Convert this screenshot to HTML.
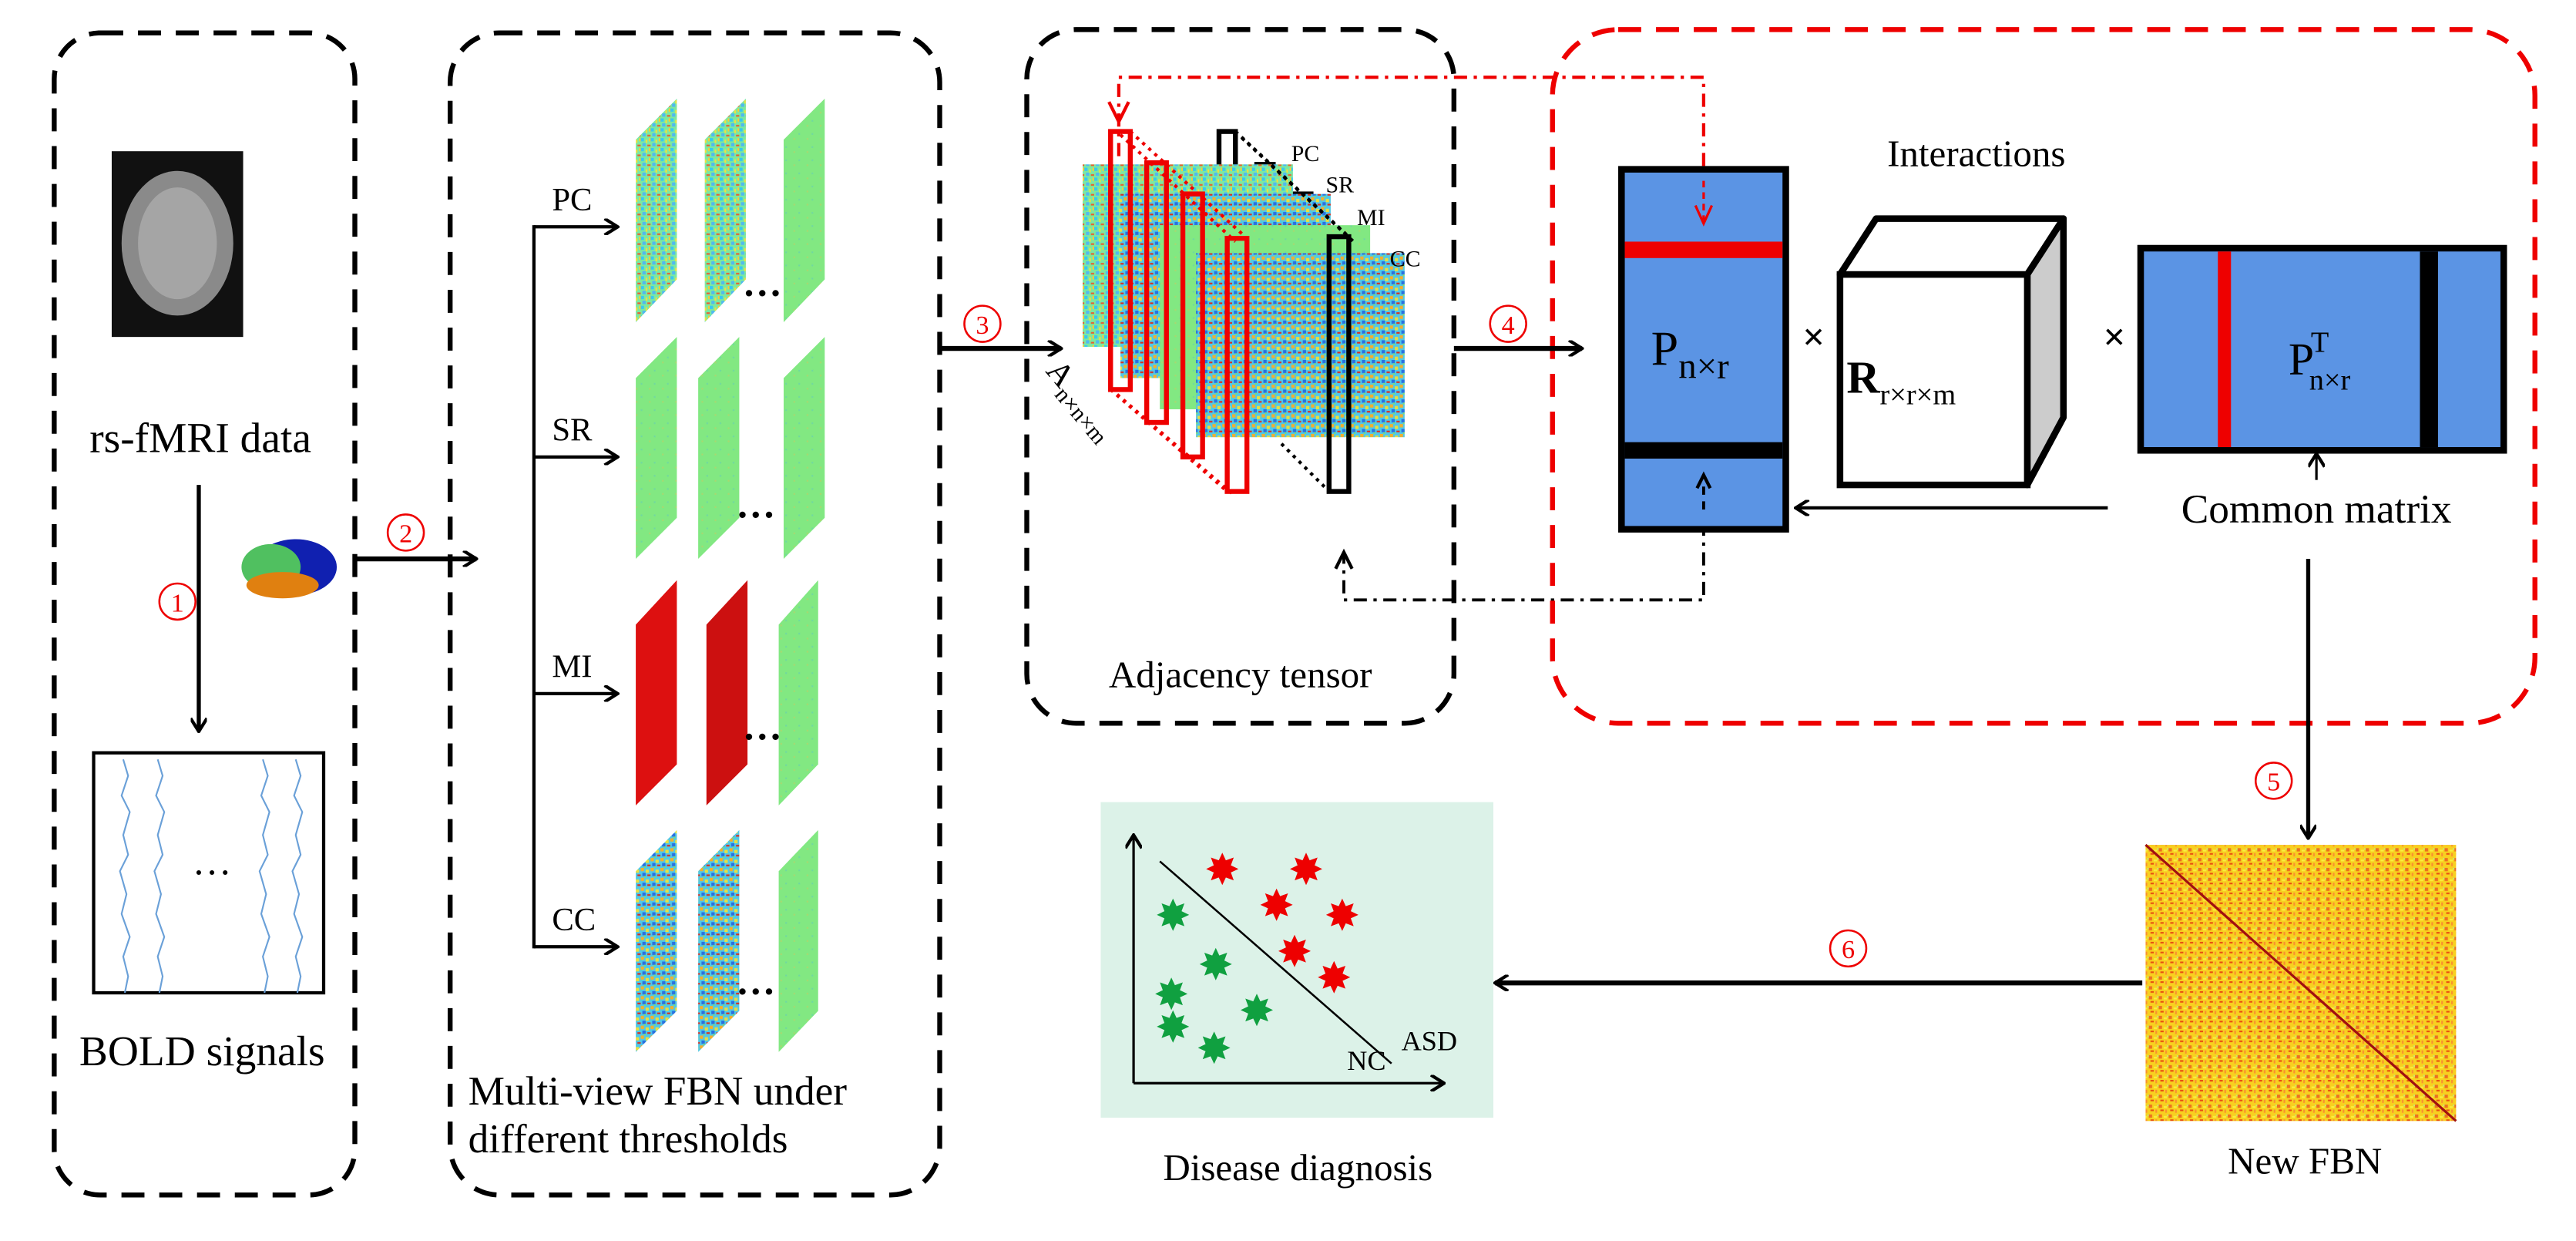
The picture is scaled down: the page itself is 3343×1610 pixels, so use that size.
<!DOCTYPE html>
<html><head><meta charset="utf-8"><style>
html,body{margin:0;padding:0;background:#fff;}
svg{display:block;font-family:"Liberation Serif","DejaVu Serif",serif;}
svg text{font-family:"Liberation Serif","DejaVu Serif",serif;}
</style></head><body>
<svg width="3343" height="1610" viewBox="0 0 1568 755" preserveAspectRatio="none" xmlns="http://www.w3.org/2000/svg" font-family="Liberation Serif, serif">
<defs>
<marker id="ah" markerWidth="10" markerHeight="10" refX="9" refY="5" orient="auto" markerUnits="userSpaceOnUse"><path d="M1,0 L9,5 L1,10" fill="none" stroke="#000" stroke-width="2"/></marker>
<pattern id="pj" width="6" height="6" patternUnits="userSpaceOnUse">
<rect width="6" height="6" fill="#7de8a0"/><rect x="0" y="0" width="2" height="2" fill="#38c8f0"/><rect x="3" y="1" width="1" height="2" fill="#f0e040"/><rect x="4" y="4" width="2" height="1" fill="#e86030"/><rect x="1" y="3" width="2" height="2" fill="#50b8f0"/><rect x="5" y="0" width="1" height="2" fill="#f8d030"/>
</pattern>
<pattern id="pc" width="6" height="6" patternUnits="userSpaceOnUse">
<rect width="6" height="6" fill="#50c8e8"/><rect x="0" y="0" width="2" height="2" fill="#f0b030"/><rect x="3" y="1" width="2" height="2" fill="#e8e040"/><rect x="1" y="3" width="2" height="2" fill="#2a70e0"/><rect x="4" y="4" width="2" height="1" fill="#d83020"/><rect x="2" y="5" width="1" height="1" fill="#80e070"/>
</pattern>
<pattern id="pg" width="8" height="8" patternUnits="userSpaceOnUse">
<rect width="8" height="8" fill="#82e882"/><rect x="3" y="4" width="1" height="1" fill="#a8d870"/><rect x="6" y="1" width="1" height="1" fill="#70d8a0"/>
</pattern>
<pattern id="py" width="6" height="6" patternUnits="userSpaceOnUse">
<rect width="6" height="6" fill="#f8d020"/><rect x="0" y="0" width="2" height="2" fill="#ec7020"/><rect x="3" y="1" width="2" height="1" fill="#f8f040"/><rect x="1" y="3" width="2" height="1" fill="#e85010"/><rect x="4" y="3" width="1" height="2" fill="#f89030"/><rect x="5" y="0" width="1" height="1" fill="#c8e870"/>
</pattern>
</defs>

<!-- Box 1 -->
<rect x="33" y="20" width="183" height="707" rx="28" fill="none" stroke="#000" stroke-width="3" stroke-dasharray="14,9"/>
<rect x="68" y="92" width="80" height="113" fill="#111"/>
<ellipse cx="108" cy="148" rx="34" ry="44" fill="#8a8a8a"/>
<ellipse cx="108" cy="148" rx="24" ry="34" fill="#a5a5a5"/>
<text x="122" y="275" font-size="26" text-anchor="middle">rs-fMRI data</text>
<line x1="121" y1="295" x2="121" y2="445" stroke="#000" stroke-width="2.5" marker-end="url(#ah)"/>
<circle cx="108" cy="366" r="11" fill="none" stroke="#e00" stroke-width="1.2"/>
<text x="108" y="372" font-size="16" fill="#e00" text-anchor="middle">1</text>
<ellipse cx="180" cy="345" rx="25" ry="17" fill="#1020b0"/>
<ellipse cx="165" cy="345" rx="18" ry="14" fill="#50c060"/>
<ellipse cx="172" cy="356" rx="22" ry="8" fill="#e08010"/>
<rect x="57" y="458" width="140" height="146" fill="#fff" stroke="#000" stroke-width="2"/>
<g fill="none" stroke="#6aa0d8" stroke-width="1">
<path d="M75,462 l3,10 -4,12 5,10 -4,14 3,12 -5,10 4,14 -3,12 5,14 -4,12 3,12 -2,10"/>
<path d="M96,462 l3,10 -4,12 5,10 -4,14 3,12 -5,10 4,14 -3,12 5,14 -4,12 3,12 -2,10"/>
<path d="M160,462 l3,10 -4,12 5,10 -4,14 3,12 -5,10 4,14 -3,12 5,14 -4,12 3,12 -2,10"/>
<path d="M180,462 l3,10 -4,12 5,10 -4,14 3,12 -5,10 4,14 -3,12 5,14 -4,12 3,12 -2,10"/>
</g>
<text x="129" y="532" font-size="24" text-anchor="middle">…</text>
<text x="123" y="648" font-size="26" text-anchor="middle">BOLD signals</text>

<!-- arrow 2 -->
<line x1="216" y1="340" x2="290" y2="340" stroke="#000" stroke-width="3" marker-end="url(#ah)"/>
<circle cx="247" cy="324" r="11" fill="none" stroke="#e00" stroke-width="1.2"/>
<text x="247" y="330" font-size="16" fill="#e00" text-anchor="middle">2</text>

<!-- Box 2 -->
<rect x="274" y="20" width="298" height="707" rx="30" fill="none" stroke="#000" stroke-width="3" stroke-dasharray="14,9"/>
<line x1="325" y1="137" x2="325" y2="577" stroke="#000" stroke-width="2"/>
<g stroke="#000" stroke-width="2" marker-end="url(#ah)">
<line x1="325" y1="138" x2="376" y2="138"/><line x1="325" y1="278" x2="376" y2="278"/>
<line x1="325" y1="422" x2="376" y2="422"/><line x1="325" y1="576" x2="376" y2="576"/>
</g>
<g font-size="20">
<text x="336" y="128">PC</text><text x="336" y="268">SR</text><text x="336" y="412">MI</text><text x="336" y="566">CC</text>
</g>
<g>
<polygon points="387,85 412,60 412,170 387,196" fill="url(#pj)"/>
<polygon points="429,85 454,60 454,170 429,196" fill="url(#pj)"/>
<polygon points="477,85 502,60 502,170 477,196" fill="url(#pg)"/>
<polygon points="387,230 412,205 412,315 387,340" fill="url(#pg)"/>
<polygon points="425,230 450,205 450,315 425,340" fill="url(#pg)"/>
<polygon points="477,230 502,205 502,315 477,340" fill="url(#pg)"/>
<polygon points="387,380 412,353 412,465 387,490" fill="#dd1010"/>
<polygon points="430,380 455,353 455,465 430,490" fill="#cc1010"/>
<polygon points="474,380 498,353 498,465 474,490" fill="url(#pg)"/>
<polygon points="387,530 412,505 412,615 387,640" fill="url(#pc)"/>
<polygon points="425,530 450,505 450,615 425,640" fill="url(#pc)"/>
<polygon points="474,530 498,505 498,615 474,640" fill="url(#pg)"/>
</g>
<g font-size="24" font-weight="bold"><text x="452" y="180">…</text><text x="448" y="315">…</text><text x="452" y="450">…</text><text x="448" y="605">…</text></g>
<text x="285" y="672" font-size="25">Multi-view FBN under</text>
<text x="285" y="701" font-size="25">different thresholds</text>

<!-- arrow 3 -->
<line x1="572" y1="212" x2="646" y2="212" stroke="#000" stroke-width="3" marker-end="url(#ah)"/>
<circle cx="598" cy="197" r="11" fill="none" stroke="#e00" stroke-width="1.2"/>
<text x="598" y="203" font-size="16" fill="#e00" text-anchor="middle">3</text>

<!-- Box 3 -->
<rect x="625" y="18" width="260" height="422" rx="30" fill="none" stroke="#000" stroke-width="3" stroke-dasharray="14,9"/>
<g stroke="#000" stroke-width="3" fill="none">
<rect x="742" y="80" width="10" height="48"/><rect x="765" y="100" width="10" height="50"/><rect x="788" y="118" width="10" height="50"/>
</g>
<rect x="659" y="100" width="128" height="111" fill="url(#pj)"/>
<rect x="682" y="118" width="128" height="112" fill="url(#pc)"/>
<rect x="706" y="137" width="128" height="112" fill="url(#pg)"/>
<rect x="728" y="154" width="127" height="112" fill="url(#pc)"/>
<g stroke="#e00" stroke-width="3" fill="none">
<rect x="676" y="80" width="12" height="157"/><rect x="698" y="99" width="12" height="158"/>
<rect x="720" y="118" width="12" height="160"/><rect x="747" y="145" width="12" height="154"/>
</g>
<g stroke="#e00" stroke-width="2" stroke-dasharray="2,3"><line x1="688" y1="80" x2="759" y2="145"/><line x1="676" y1="237" x2="747" y2="299"/><line x1="682" y1="82" x2="752" y2="147"/><line x1="680" y1="240" x2="752" y2="302"/></g>
<rect x="809" y="144" width="12" height="155" fill="none" stroke="#000" stroke-width="3"/>
<g stroke="#000" stroke-width="2" stroke-dasharray="2,3"><line x1="752" y1="80" x2="821" y2="144"/><line x1="756" y1="84" x2="825" y2="148"/><line x1="780" y1="270" x2="809" y2="299"/></g>
<g font-size="14"><text x="786" y="98">PC</text><text x="807" y="117">SR</text><text x="826" y="137">MI</text><text x="846" y="162">CC</text></g>
<text x="0" y="0" font-size="20" transform="translate(636,226) rotate(50)">A<tspan font-size="14" dy="5">n×n×m</tspan></text>
<text x="755" y="418" font-size="23" text-anchor="middle">Adjacency tensor</text>

<polyline points="681,95 681,47 1037,47 1037,133" fill="none" stroke="#e00" stroke-width="2" stroke-dasharray="8,4,2,4"/>
<path d="M675,62 L681,74 L687,62" fill="none" stroke="#e00" stroke-width="2"/>
<polyline points="1037,318 1037,365 818,365 818,338" fill="none" stroke="#000" stroke-width="1.8" stroke-dasharray="8,4,2,4"/>
<path d="M813,346 L818,336 L823,346" fill="none" stroke="#000" stroke-width="2"/>

<rect x="945" y="18" width="598" height="422" rx="40" fill="none" stroke="#e00" stroke-width="3" stroke-dasharray="14,9"/>

<line x1="885" y1="212" x2="963" y2="212" stroke="#000" stroke-width="3" marker-end="url(#ah)"/>
<circle cx="918" cy="197" r="11" fill="none" stroke="#e00" stroke-width="1.2"/>
<text x="918" y="203" font-size="16" fill="#e00" text-anchor="middle">4</text>

<text x="1203" y="101" font-size="23" text-anchor="middle">Interactions</text>
<rect x="987" y="103" width="100" height="219" fill="#5b94e4" stroke="#000" stroke-width="4"/>
<rect x="989" y="147" width="96" height="10" fill="#e00"/>
<rect x="989" y="269" width="96" height="10" fill="#000"/>
<path d="M1032,125 L1037,136 L1042,125" fill="none" stroke="#e00" stroke-width="1.5"/>
<line x1="1037" y1="110" x2="1037" y2="134" stroke="#e00" stroke-width="1.5" stroke-dasharray="4,3"/>
<line x1="1037" y1="310" x2="1037" y2="292" stroke="#000" stroke-width="1.8" stroke-dasharray="5,4"/>
<path d="M1033,297 L1037,289 L1041,297" fill="none" stroke="#000" stroke-width="2"/>
<text x="1005" y="222" font-size="30">P<tspan font-size="22" dy="8">n×r</tspan></text>
<text x="1104" y="213" font-size="24" font-weight="bold" text-anchor="middle">×</text>
<polygon points="1120,167 1142,133 1256,133 1234,167" fill="#fff" stroke="#000" stroke-width="4" stroke-linejoin="round"/>
<polygon points="1234,167 1256,133 1256,254 1234,295" fill="#ccc" stroke="#000" stroke-width="4" stroke-linejoin="round"/>
<rect x="1120" y="167" width="114" height="128" fill="#fff" stroke="#000" stroke-width="4"/>
<text x="1124" y="239" font-size="28" font-weight="bold">R<tspan font-size="18" font-weight="normal" dy="7">r×r×m</tspan></text>
<text x="1287" y="213" font-size="24" font-weight="bold" text-anchor="middle">×</text>
<rect x="1303" y="151" width="221" height="123" fill="#5b94e4" stroke="#000" stroke-width="4"/>
<rect x="1350" y="153" width="8" height="119" fill="#e00"/>
<rect x="1473" y="153" width="11" height="119" fill="#000"/>
<text x="1393" y="228" font-size="28">P<tspan font-size="18" dy="-14" dx="-2">T</tspan><tspan font-size="18" dy="23" dx="-12">n×r</tspan></text>
<text x="1410" y="318" font-size="25" text-anchor="middle">Common  matrix</text>
<line x1="1410" y1="292" x2="1410" y2="276" stroke="#000" stroke-width="1.5" marker-end="url(#ah)"/>
<line x1="1283" y1="309" x2="1093" y2="309" stroke="#000" stroke-width="2" marker-end="url(#ah)"/>

<line x1="1405" y1="340" x2="1405" y2="510" stroke="#000" stroke-width="2.5" marker-end="url(#ah)"/>
<circle cx="1384" cy="475" r="11" fill="none" stroke="#e00" stroke-width="1.2"/>
<text x="1384" y="481" font-size="16" fill="#e00" text-anchor="middle">5</text>

<rect x="1306" y="514" width="189" height="168" fill="url(#py)"/>
<line x1="1306" y1="514" x2="1495" y2="682" stroke="#a01010" stroke-width="1.5"/>
<text x="1403" y="714" font-size="23" text-anchor="middle">New FBN</text>

<line x1="1304" y1="598" x2="910" y2="598" stroke="#000" stroke-width="3" marker-end="url(#ah)"/>
<circle cx="1125" cy="577" r="11" fill="none" stroke="#e00" stroke-width="1.2"/>
<text x="1125" y="583" font-size="16" fill="#e00" text-anchor="middle">6</text>

<rect x="670" y="488" width="239" height="192" fill="#dcf2e8"/>
<line x1="690" y1="659" x2="879" y2="659" stroke="#000" stroke-width="1.5" marker-end="url(#ah)"/>
<line x1="690" y1="659" x2="690" y2="508" stroke="#000" stroke-width="1.5" marker-end="url(#ah)"/>
<line x1="706" y1="524" x2="847" y2="647" stroke="#000" stroke-width="1.2"/>
<text x="853" y="639" font-size="17">ASD</text>
<text x="820" y="651" font-size="17">NC</text>
<g font-size="26" text-anchor="middle" fill="#e00">
<text x="744" y="538">✸</text><text x="795" y="538">✸</text><text x="777" y="560">✸</text><text x="817" y="566">✸</text><text x="788" y="588">✸</text><text x="812" y="604">✸</text>
</g>
<g font-size="26" text-anchor="middle" fill="#10a040">
<text x="714" y="566">✸</text><text x="740" y="596">✸</text><text x="713" y="614">✸</text><text x="765" y="624">✸</text><text x="714" y="634">✸</text><text x="739" y="647">✸</text>
</g>
<text x="790" y="718" font-size="23" text-anchor="middle">Disease diagnosis</text>
</svg>
</body></html>
